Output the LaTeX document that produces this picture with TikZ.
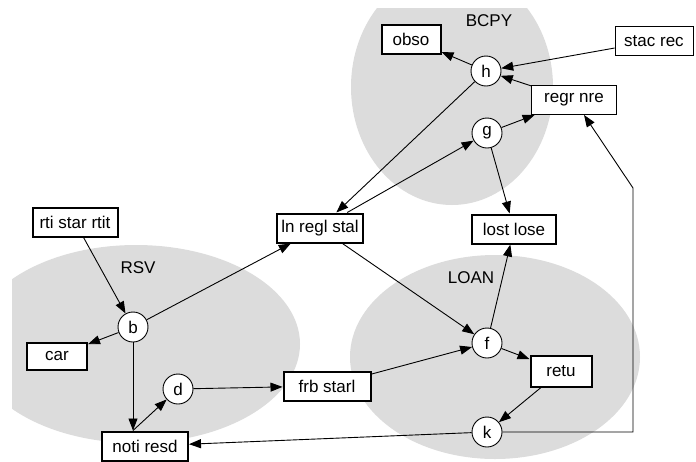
\documentclass[tikz,border=0pt]{standalone}
\usepackage{fontspec}
\setmainfont{Liberation Sans}
\usetikzlibrary{arrows.meta}
\usetikzlibrary{positioning}

\definecolor{zone}{RGB}{220,220,220}

\tikzset{
    box/.style={draw,line width=2pt,fill=white,inner sep=2pt,minimum height=29pt},
    thinbox/.style={draw,line width=0.9pt,fill=white,inner sep=2pt,minimum height=29pt},
    hub/.style={draw,circle,line width=0.9pt,fill=white,inner sep=0pt,minimum size=30pt},
    zonelabel/.style={inner sep=0pt},
    arr/.style={line width=0.9pt,-{Triangle[length=12pt,width=9pt]}},
}

\begin{document}
\begin{tikzpicture}[x=1pt,y=-1pt,every node/.style={font=\fontsize{17}{20}\selectfont}]
    \useasboundingbox (0,0) rectangle (696,461);

    % shaded groups
    \begin{scope}
        \clip (12,8) rectangle (696,461);
        \fill[zone] (452,87) ellipse [x radius=101,y radius=118];
        \fill[zone] (136,344) ellipse [x radius=164,y radius=99];
        \fill[zone] (495,357) ellipse [x radius=145,y radius=102];
    \end{scope}
    \node[zonelabel] (bcpy) at (489,21) {BCPY};
    \node[zonelabel] (rsv) at (138,268) {RSV};
    \node[zonelabel] (loan) at (471,278) {LOAN};

    % states
    \node[hub] (h) at (486,71) {h};
    \node[hub] (g) at (487,133) {g};
    \node[hub] (b) at (133,327) {b};
    \node[hub] (d) at (178,389) {d};
    \node[hub] (f) at (487,343) {f};
    \node[hub] (k) at (487,432) {k};

    % boxes
    \node[box,minimum width=59pt] (obso) at (411,39) {obso};
    \node[thinbox,minimum width=78pt] (stacrec) at (654,41) {stac rec};
    \node[thinbox,minimum width=85pt] (regrnre) at (574,100) {regr nre};
    \node[box,minimum width=86pt] (lnregl) at (320,228) {ln regl stal};
    \node[box,minimum width=84pt] (lostlose) at (514,229) {lost lose};
    \node[box,minimum width=85pt] (rti) at (75,222) {rti star rtit};
    \node[box,minimum width=60pt,minimum height=27pt] (car) at (57,356) {car};
    \node[box,minimum width=87pt] (frb) at (327,386) {frb starl};
    \node[box,minimum width=86pt] (noti) at (145,446) {noti resd};
    \node[box,minimum width=61pt,minimum height=31pt] (retu) at (561,371) {retu};

    \coordinate (notitop) at (b |- noti.north);
    \coordinate (kright) at (633,432);
    \coordinate (kup) at (633,188);

    % transitions
    \draw[arr] (h) -- (obso);
    \draw[arr] (stacrec) -- (h);
    \draw[arr] (regrnre) -- (h);
    \draw[arr] (g) -- (regrnre);
    \draw[arr] (h) -- (lnregl);
    \draw[arr] (lnregl) -- (g);
    \draw[arr] (g) -- (lostlose);
    \draw[arr] (lnregl) -- (f);
    \draw[arr] (rti) -- (b);
    \draw[arr] (b) -- (car);
    \draw[arr] (b) -- (lnregl);
    \draw[arr] (b) -- (notitop);
    \draw[arr] (notitop) -- (d);
    \draw[arr] (d) -- (frb);
    \draw[arr] (frb) -- (f);
    \draw[arr] (f) -- (lostlose);
    \draw[arr] (f) -- (retu);
    \draw[arr] (retu) -- (k);
    \draw[arr] (k) -- (noti);
    \draw[arr] (k) -- (kright) -- (kup) -- (regrnre);
\end{tikzpicture}
\end{document}
